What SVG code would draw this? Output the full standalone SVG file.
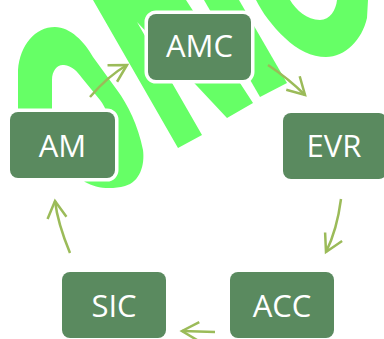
<svg xmlns="http://www.w3.org/2000/svg" width="384" height="339" viewBox="0 0 384 339">
<style>
.wm{fill:#66FF66;stroke:none}
.node rect{fill:#5A8A5F;stroke:#FFFFFF;stroke-width:7;paint-order:stroke}
.node text{fill:#FFFFFF;font-family:"Open Sans","Noto Sans",sans-serif;font-size:31px;text-anchor:middle}
.conn path{fill:none;stroke:#9BBB59;stroke-width:2.5;marker-end:url(#chev)}
</style>
<defs>
<marker id="chev" markerUnits="userSpaceOnUse" markerWidth="40" markerHeight="40" viewBox="-20 -20 40 40" refX="0" refY="0" orient="auto">
<path d="M-17,-9.5 L0,0 L-17,9.5" fill="none" stroke="#9BBB59" stroke-width="2.5"/>
</marker>
</defs>
<rect width="384" height="339" fill="#FFFFFF"/>
<g id="background">
<path class="wm" fill-rule="evenodd" d="M18,112 L18,70 C20,45 35,27 55,27 C70,27 85,42 93,57 L117,90 C128,105 138,125 143,150 C145,165 140,182 125,186 C110,190 95,188 85,182 Z M52,115 L52,80 C52,70 58,64 64,65 C72,66 77,71 82,78 L100,100 C106,108 110,118 112,130 L110,170 L60,170 Z"/>
<path class="wm" d="M93,0 L178,148 L202,135 L137,22 L227,118 L253,103 L186,0 Z"/>
<path class="wm" d="M204,0 L260,97 L287,83 L239,0 Z"/>
<path class="wm" fill-rule="evenodd" d="M256,0 C262,12 272,26 285,38 C297,50 312,57 326,57 C345,57 362,40 367,18 L368,0 Z M290,0 C296,10 307,20 320,20 C330,20 336,10 337,0 Z"/>
</g>
<g id="connectors" class="conn">
<path d="M90,97 Q108,76 127,65"/>
<path d="M268,65 Q289,79 305,95"/>
<path d="M341,199 Q337,230 326,252"/>
<path d="M215,332 Q198,331.5 182,331"/>
<path d="M70,253 Q57.6,223 55,201"/>
</g>
<g id="AMC" class="node"><rect x="148" y="14" width="103" height="66" rx="8"/><text x="199.5" y="57">AMC</text></g>
<g id="EVR" class="node"><rect x="283" y="113" width="104" height="66" rx="8"/><text x="334" y="157">EVR</text></g>
<g id="ACC" class="node"><rect x="230" y="272" width="104" height="66" rx="8"/><text x="282" y="317">ACC</text></g>
<g id="SIC" class="node"><rect x="62" y="272" width="104" height="66" rx="8"/><text x="114" y="317">SIC</text></g>
<g id="AM" class="node"><rect x="10" y="112" width="105" height="66" rx="8"/><text x="62.5" y="157">AM</text></g>
</svg>
